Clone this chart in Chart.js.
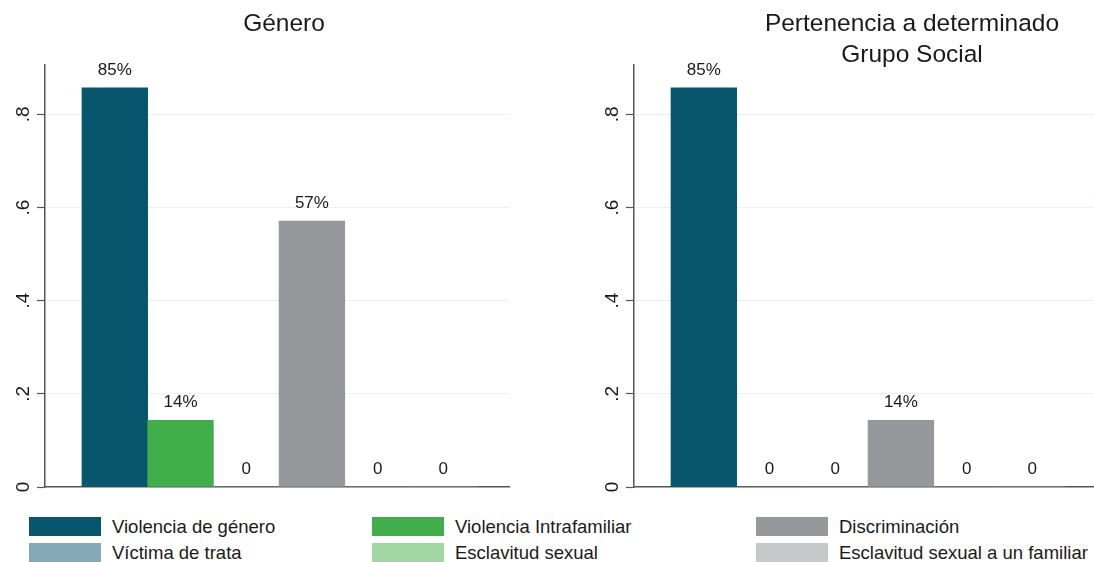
<!DOCTYPE html>
<html><head><meta charset="utf-8">
<script src="https://cdn.jsdelivr.net/npm/chart.js@4"></script>
<style>
html,body{margin:0;padding:0;overflow:hidden;background:#fff;width:1094px;height:562px;font-family:"Liberation Sans",Arial,sans-serif;color:#1a1a1a}
#wrap{position:relative;width:1094px;height:562px;overflow:hidden}
.title{position:absolute;top:6.5px;font-size:24.5px;text-align:center;line-height:31px;white-space:nowrap;transform:translateX(-50%)}
canvas{position:absolute;top:0}
.sw{position:absolute;width:72px;height:19px}
.lt{position:absolute;font-size:18.5px;line-height:19px;white-space:nowrap}
</style>
</head><body>
<div id="wrap">
<canvas id="c1" width="547" height="500" style="left:0;width:547px;height:500px"></canvas>
<canvas id="c2" width="560" height="500" style="left:547px;width:560px;height:500px"></canvas>
<div class="title" style="left:284px">Género</div>
<div class="title" style="left:912px">Pertenencia a determinado<br>Grupo Social</div>
<div id="legend"></div>
</div>
<script>
// ---- data ----
const barCategories = ['Violencia de género','Violencia Intrafamiliar','Víctima de trata','Discriminación','Esclavitud sexual','Esclavitud sexual a un familiar'];
const generoValues = [0.857, 0.143, 0, 0.571, 0, 0];
const generoLabels = ['85%','14%','0','57%','0','0'];
const grupoValues = [0.857, 0, 0, 0.143, 0, 0];
const grupoLabels = ['85%','0','0','14%','0','0'];
const yTickValues = [0, 0.2, 0.4, 0.6, 0.8];
const yTickLabels = ['0','.2','.4','.6','.8'];
const legendOrder = ['Violencia de género','Violencia Intrafamiliar','Discriminación','Víctima de trata','Esclavitud sexual','Esclavitud sexual a un familiar'];

// ---- styles ----
const palette = {
  'Violencia de género':'#07566d',
  'Violencia Intrafamiliar':'#41ae4b',
  'Discriminación':'#96979b',
  'Víctima de trata':'#85a9b7',
  'Esclavitud sexual':'#a2d5a4',
  'Esclavitud sexual a un familiar':'#c7c8ca'
};
const FONT = '"Liberation Sans", Arial, sans-serif';

const valueLabelPlugin = {
  id:'valueLabels',
  afterDatasetsDraw(chart, args, opts){
    const ctx = chart.ctx;
    const meta = chart.getDatasetMeta(0);
    ctx.save();
    ctx.font = '17px ' + FONT;
    ctx.fillStyle = '#1a1a1a';
    ctx.textAlign = 'center';
    ctx.textBaseline = 'middle';
    meta.data.forEach((el,i)=>{ ctx.fillText(opts.labels[i], el.x, el.y - 18); });
    ctx.restore();
  }
};
const yLabelPlugin = {
  id:'yLabels',
  afterDraw(chart){
    const ctx = chart.ctx, ys = chart.scales.y;
    ctx.save();
    ctx.font = '19px ' + FONT;
    ctx.fillStyle = '#1a1a1a';
    ctx.textAlign = 'center';
    ctx.textBaseline = 'middle';
    yTickValues.forEach((v,i)=>{
      const py = ys.getPixelForValue(v);
      ctx.save();
      ctx.translate(chart.chartArea.left - 21, py);
      ctx.rotate(-Math.PI/2);
      ctx.fillText(yTickLabels[i], 0, 0);
      ctx.restore();
    });
    ctx.restore();
  }
};

function makeChart(id, values, labels, padding){
  return new Chart(document.getElementById(id), {
    type:'bar',
    data:{
      datasets:[{
        data: values.map((v,i)=>({x:i, y:v})),
        backgroundColor: barCategories.map(c=>palette[c]),
        borderWidth:0,
        barPercentage:1,
        categoryPercentage:1
      }]
    },
    options:{
      responsive:false, animation:false, devicePixelRatio:1,
      layout:{padding: padding},
      plugins:{legend:{display:false}, tooltip:{enabled:false}, valueLabels:{labels: labels}},
      scales:{
        x:{
          type:'linear', min:-1.063, max:6.0, offset:false,
          ticks:{display:false, stepSize:1, includeBounds:false},
          grid:{display:false, drawTicks:false},
          border:{display:true, color:'#555', width:1.5},
          afterFit(s){ s.height = 0; }
        },
        y:{
          type:'linear', min:0, max:0.906,
          ticks:{display:false, stepSize:0.2, includeBounds:false},
          grid:{
            color:(c)=> (c.tick && c.tick.value === 0) ? 'rgba(0,0,0,0)' : '#e8f1f3',
            lineWidth:1, drawTicks:true, tickLength:8, tickColor:'#555', tickWidth:1.2
          },
          border:{display:true, color:'#555', width:1.5},
          afterFit(s){ s.width = 8; }
        }
      }
    },
    plugins:[valueLabelPlugin, yLabelPlugin]
  });
}

makeChart('c1', generoValues, generoLabels, {left:37, right:38, top:65, bottom:13});
makeChart('c2', grupoValues, grupoLabels, {left:79, right:9, top:65, bottom:13});

// ---- legend (3 columns x 2 rows) ----
const legendCols = [29, 372, 756];
const legendRows = [517, 543];
const lg = document.getElementById('legend');
legendOrder.forEach((name, i)=>{
  const col = i % 3, row = Math.floor(i / 3);
  const sw = document.createElement('div');
  sw.className = 'sw';
  sw.style.left = legendCols[col] + 'px';
  sw.style.top = legendRows[row] + 'px';
  sw.style.background = palette[name];
  lg.appendChild(sw);
  const t = document.createElement('div');
  t.className = 'lt';
  t.style.left = (legendCols[col] + 83) + 'px';
  t.style.top = legendRows[row] + 'px';
  t.textContent = name;
  lg.appendChild(t);
});
</script>
</body></html>
